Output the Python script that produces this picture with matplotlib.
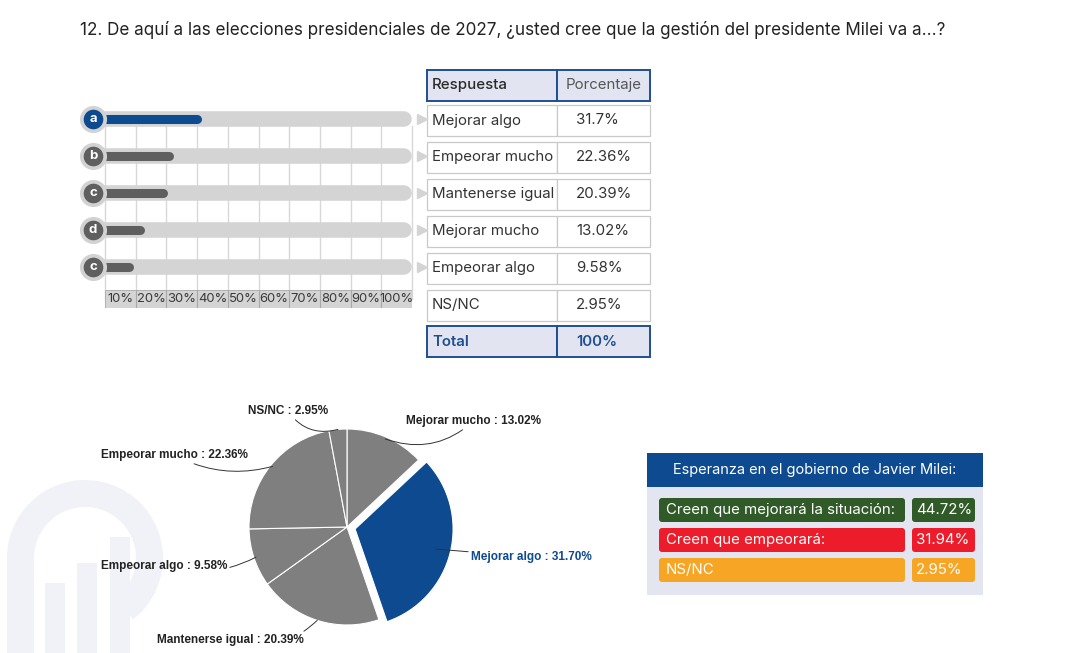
import numpy as np
import matplotlib.pyplot as plt
from matplotlib.patches import Rectangle, FancyBboxPatch, Wedge

# datos de la encuesta
respuestas = ["Mejorar algo", "Empeorar mucho", "Mantenerse igual", "Mejorar mucho", "Empeorar algo", "NS/NC"]
porcentajes = [31.70, 22.36, 20.39, 13.02, 9.58, 2.95]
letras = ["a", "b", "c", "d", "c"]
ticks_pct = [10, 20, 30, 40, 50, 60, 70, 80, 90, 100]

# orden de las porciones de la torta (sentido horario desde arriba)
torta_labels = ["Mejorar mucho", "Mejorar algo", "Mantenerse igual", "Empeorar algo", "Empeorar mucho", "NS/NC"]
torta_valores = [13.02, 31.70, 20.39, 9.58, 22.36, 2.95]

esperanza_labels = ["Creen que mejorará la situación:", "Creen que empeorará:", "NS/NC"]
esperanza_valores = [44.72, 31.94, 2.95]

AZUL = "#0d4a8f"
GRIS = "#7f7f7f"
W, H = 1090, 653

fig = plt.figure(figsize=(W / 100, H / 100), dpi=100)
bg = fig.add_axes([0, 0, 1, 1])
bg.set_xlim(0, W)
bg.set_ylim(H, 0)
bg.axis("off")

def px_axes(x0, y0, x1, y1):
    return fig.add_axes([x0 / W, 1 - y1 / H, (x1 - x0) / W, (y1 - y0) / H])

# marca de agua (logo)
wm = "#f1f2f8"
bg.add_patch(Wedge((85, 558), 78, 180, 412, width=27, color=wm, lw=0, zorder=0))
bg.add_patch(Rectangle((7, 558), 27, 100, color=wm, lw=0, zorder=0))
for bx, top in [(45, 583), (77, 563), (110, 537)]:
    bg.add_patch(Rectangle((bx, top), 20, H - top, color=wm, lw=0, zorder=0))

# titulo
bg.text(80, 30, "12. De aquí a las elecciones presidenciales de 2027, ¿usted cree que la gestión del presidente Milei va a...?",
        fontsize=12.3, family="Inter", color="#222222", va="center", ha="left")

# ---- barras ----
fila = 37.0
ax = px_axes(105, 100.5, 412, 308)
ax.set_xlim(0, 100)
ax.set_ylim(-0.5 + 207.5 / fila, -0.5)
ax.axis("off")
px = 100 / 307.0  # unidades de datos por pixel
n = len(letras)
yb_c = (299 - 100.5) / fila - 0.5
yb_h = 18 / fila
for t in [0] + ticks_pct:
    ax.plot([t, t], [0.2, yb_c], color="#d8d8d8", lw=1, zorder=1, clip_on=False)
ax.barh(yb_c, 100, height=yb_h, left=0, color="#d4d4d4", edgecolor="#b0b0b0", lw=0.7, zorder=1)
for t in ticks_pct:
    ax.plot([t, t], [yb_c - yb_h / 2, yb_c + yb_h / 2], color="#a8a8a8", lw=0.8, zorder=2)
    ax.text(t - 5, yb_c, f"{t}%", ha="center", va="center", fontsize=9.4,
            family="Inter", color="#3a3a3a", zorder=3)
for i in range(n):
    ax.plot([-5.5, 100 - 8 * px], [i, i], color="#d4d4d4", lw=11.2, solid_capstyle="round",
            zorder=2, clip_on=False)
    ax.plot([103.3], [i], marker=">", color="#d4d4d4", markersize=6.5, zorder=2, clip_on=False)
    c = AZUL if i == 0 else "#5f5f5f"
    ax.plot([-4, porcentajes[i] - 5 * px], [i, i], color=c, lw=6.5, solid_capstyle="round",
            zorder=3, clip_on=False)
    ax.scatter([-3.9], [i], s=380, color="#d2d2d2", zorder=4, clip_on=False, lw=0)
    ax.scatter([-3.9], [i], s=200, color=c, zorder=5, clip_on=False, lw=0)
    ax.text(-3.9, i, letras[i], color="white", ha="center", va="center", fontsize=9.5,
            fontweight="bold", family="Inter", zorder=6)

# ---- tabla ----
tx0, tx1, tx2 = 427, 557, 650
borde_azul = "#1f4f8f"
fondo_head = "#e2e5f1"

def fila_tabla(y0, y1, izq, der, head=False, color_txt="#333333", color_der="#333333", peso="normal"):
    for a, b in [(tx0, tx1), (tx1, tx2)]:
        if head:
            bg.add_patch(Rectangle((a, y0), b - a, y1 - y0, facecolor=fondo_head,
                                   edgecolor=borde_azul, lw=1.4, zorder=2))
        else:
            bg.add_patch(Rectangle((a, y0), b - a, y1 - y0, facecolor="white",
                                   edgecolor="#c9c9c9", lw=0.9, zorder=2))
    yc = (y0 + y1) / 2
    bg.text(tx0 + 5, yc, izq, fontsize=10.8, family="Inter", color=color_txt, va="center",
            zorder=3, fontweight=peso)
    bg.text(tx1 + 19, yc, der, fontsize=10.8, family="Inter", color=color_der, va="center",
            zorder=3, fontweight=peso)

fila_tabla(70, 101, "Respuesta", "", head=True, color_txt="#2a2a2a", peso="medium")
bg.text((tx1 + tx2) / 2, 85.5, "Porcentaje", fontsize=10.8, family="Inter", color="#555555",
        va="center", ha="center", zorder=3)
y = 105
for r, v in zip(respuestas, porcentajes):
    fila_tabla(y, y + 31, r, f"{v:g}%")
    y += 36.9
fila_tabla(326, 357, "Total", f"{sum(porcentajes):.0f}%", head=True,
           color_txt=borde_azul, color_der=borde_azul, peso="semibold")

# ---- torta ----
cx, cy, R = 347, 527, 98
pa = px_axes(cx - 2.5 * R / 2, cy - 2.5 * R / 2, cx + 2.5 * R / 2, cy + 2.5 * R / 2)
colores = [AZUL if l == "Mejorar algo" else GRIS for l in torta_labels]
explode = [0.085 if l == "Mejorar algo" else 0 for l in torta_labels]
wedges, _ = pa.pie(torta_valores, colors=colores, startangle=90, counterclock=False,
                   explode=explode, wedgeprops=dict(edgecolor="white", linewidth=0.8))
pa.set_xlim(-1.25, 1.25)
pa.set_ylim(-1.25, 1.25)
pa.set_aspect("equal")
pa.axis("off")

# posiciones de las etiquetas (pixeles) y radio de inicio de la linea
etq = {
    "NS/NC": (330, 411, "right", 1.0, 0.35),
    "Mejorar mucho": (403, 421, "left", 0.98, -0.3),
    "Empeorar mucho": (250, 455, "right", 0.98, 0.2),
    "Empeorar algo": (229, 566, "right", 0.98, 0.2),
    "Mejorar algo": (468, 557, "left", 0.85, 0.0),
    "Mantenerse igual": (306, 640, "right", 1.0, 0.3),
}
ang = 90.0
for l, v, wdg in zip(torta_labels, torta_valores, wedges):
    mid = np.deg2rad(ang - v * 3.6 / 2)
    ang -= v * 3.6
    ex = 0.085 if l == "Mejorar algo" else 0
    x_t, y_t, ha, rr, rad = etq[l]
    xy = ((rr + ex) * np.cos(mid), (rr + ex) * np.sin(mid))
    col = AZUL if l == "Mejorar algo" else "#222222"
    pa.annotate(f"{l} : {v:.2f}%", xy=xy, xycoords="data",
                xytext=(x_t + (3 if ha == "left" else -2), H - y_t), textcoords="figure pixels",
                ha=ha, va="center", fontsize=8.5, fontweight="bold", family="Liberation Sans",
                color=col, annotation_clip=False,
                arrowprops=dict(arrowstyle="-", color="#333333", lw=0.7, shrinkA=0, shrinkB=0,
                                connectionstyle=f"arc3,rad={rad}"))

# ---- cuadro de esperanza ----
bx0, bx1 = 647, 983
bg.add_patch(Rectangle((bx0, 487), bx1 - bx0, 108, facecolor="#e3e6f1", lw=0, zorder=1))
bg.add_patch(Rectangle((bx0, 453), bx1 - bx0, 34, facecolor=AZUL, lw=0, zorder=2))
bg.text((bx0 + bx1) / 2, 470, "Esperanza en el gobierno de Javier Milei:", color="white",
        fontsize=10.5, family="Inter", ha="center", va="center", zorder=3)
colores_box = ["#305a28", "#ec1c2a", "#f6a524"]
yb = 498
for l, v, c in zip(esperanza_labels, esperanza_valores, colores_box):
    bg.add_patch(FancyBboxPatch((659, yb), 246, 24, boxstyle="round,pad=0,rounding_size=3",
                                facecolor=c, lw=0, zorder=3))
    bg.add_patch(FancyBboxPatch((912, yb), 63, 24, boxstyle="round,pad=0,rounding_size=3",
                                facecolor=c, lw=0, zorder=3))
    bg.text(666, yb + 12, l, color="white", fontsize=10.8, family="Inter", va="center", zorder=4)
    bg.text(916, yb + 12, f"{v:.2f}%", color="white", fontsize=10.8, family="Inter",
            va="center", zorder=4)
    yb += 30

fig.savefig("out.png", dpi=100)
